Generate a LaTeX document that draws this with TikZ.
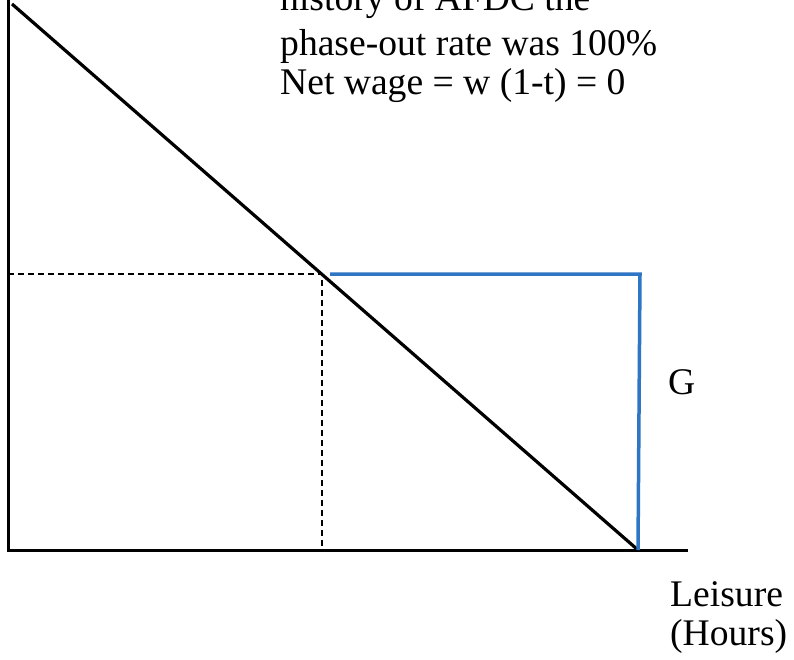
\documentclass[tikz,border=0pt]{standalone}
\usepackage{fontspec}
\setmainfont{Liberation Serif}
\definecolor{budgetblue}{RGB}{46,117,196}
\begin{document}
\begin{tikzpicture}[x=1pt,y=-1pt,
  lbl/.style={anchor=base west,inner sep=0pt,font=\fontsize{37.6}{40}\selectfont},
  axis/.style={line width=3pt,black},
  budget/.style={line width=3.2pt,black},
  kink/.style={line width=3.5pt,budgetblue},
  guide/.style={line width=1.8pt,dashed,dash pattern=on 6pt off 4pt}]
\useasboundingbox (0,0) rectangle (794,660);
\clip (0,0) rectangle (794,660);
\coordinate (yt) at (8,-2);
\coordinate (o) at (8,550);
\coordinate (xe) at (688,550);
\coordinate (bt) at (12,4);
\coordinate (be) at (638,550);
\coordinate (k) at (322,274);
\coordinate (bs) at (330,274);
\coordinate (bc) at (640,274);
\coordinate (hl) at (8,274);
\coordinate (vb) at (322,550);
\draw[guide] (hl) -- (k) -- (vb);
\draw[axis] (yt) -- (o) -- (xe);
\draw[budget] (bt) -- (be);
\draw[kink,line join=miter] (bs) -- (bc) -- (be);
\node[lbl] (t0) at (280,11) {history of AFDC the};
\node[lbl] (t1) at (280,56) {phase-out rate was 100\%};
\node[lbl] (t2) at (280,95) {Net wage = w (1-t) = 0};
\node[lbl] (g) at (668,394) {G};
\node[lbl] (l1) at (670,606) {Leisure};
\node[lbl] (l2) at (670,645) {(Hours)};
\end{tikzpicture}
\end{document}
